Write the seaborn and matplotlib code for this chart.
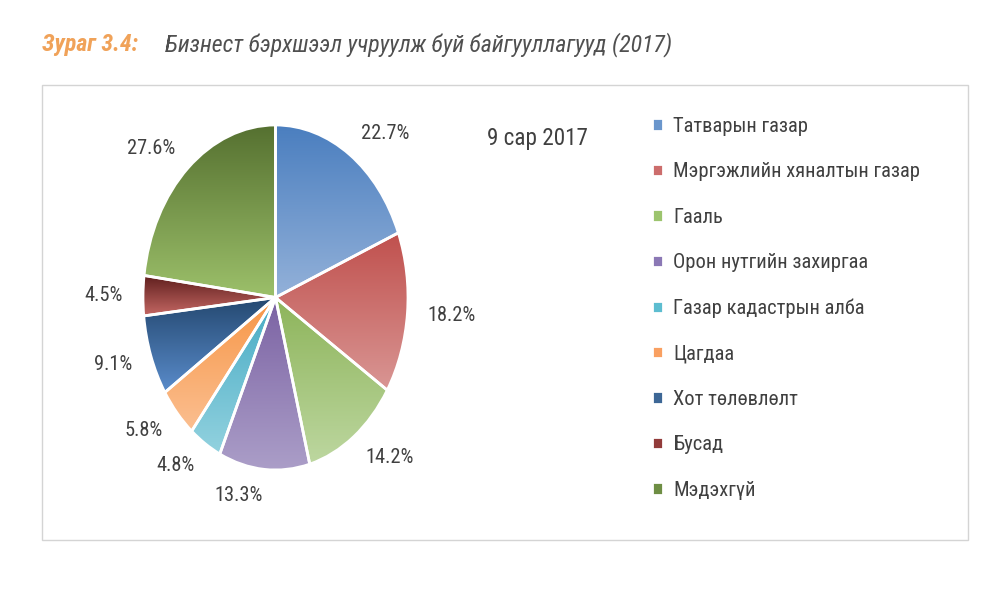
import numpy as np
import seaborn as sns
import matplotlib.pyplot as plt
from matplotlib.colors import LinearSegmentedColormap
from matplotlib.patches import Rectangle
from matplotlib import font_manager
from matplotlib.ft2font import FT2Font

# Data
categories = [
    "Татварын газар",
    "Мэргэжлийн хяналтын газар",
    "Гааль",
    "Орон нутгийн захиргаа",
    "Газар кадастрын алба",
    "Цагдаа",
    "Хот төлөвлөлт",
    "Бусад",
    "Мэдэхгүй",
]
values = [22.7, 18.2, 14.2, 13.3, 4.8, 5.8, 9.1, 4.5, 27.6]
pct_labels = [f"{v:.1f}%" for v in values]

# gradient colours per slice (top -> bottom)
top_colors = ["#4a7ebf", "#c0504d", "#8db45a", "#7b62a3", "#45aac4",
              "#f79646", "#244870", "#5e1e1d", "#557030"]
bottom_colors = ["#93b1d9", "#d99694", "#bdd7a0", "#ab9ec8", "#93d2df",
                 "#fbbf91", "#5a8ccb", "#c56864", "#9cc06a"]
legend_colors = ["#6a96cc", "#cc6d6c", "#9cc46e", "#8b78b5", "#5dbdd0",
                 "#f9a061", "#3d6796", "#923b3a", "#6e8e44"]


def has_cyrillic(path):
    try:
        cmap = FT2Font(path).get_charmap()
    except Exception:
        return False
    return all(ord(c) in cmap for c in "жүөЦ")


def pick_font():
    # the reference uses a condensed face with Cyrillic; find one
    best = None
    for f in font_manager.fontManager.ttflist:
        if f.style != "normal" or f.weight not in (400, "normal", "regular"):
            continue
        narrow_name = "Condensed" in f.name or "Narrow" in f.name
        narrow_stretch = str(f.stretch) in ("condensed", "semi-condensed",
                                            "extra-condensed")
        if not (narrow_name or narrow_stretch):
            continue
        if not has_cyrillic(f.fname):
            continue
        rank = 0 if "Roboto" in f.name else (1 if narrow_name else 2)
        stretch = "normal" if narrow_name else str(f.stretch)
        if best is None or rank < best[0]:
            best = (rank, f.name, stretch)
    if best is None:
        return "Roboto", "normal", False
    return best[1], best[2], True


def main():
    sns.set_theme(style="white")
    fam, stretch, narrow = pick_font()
    plt.rcParams["font.family"] = [fam, "DejaVu Sans"]
    plt.rcParams["font.stretch"] = stretch
    k = 1.0 if narrow else 0.89

    fig = plt.figure(figsize=(10, 6), dpi=100)
    fig.patch.set_facecolor("white")

    # frame around the chart
    fig.add_artist(Rectangle((0.042, 0.1), 0.926, 0.758, transform=fig.transFigure,
                             fill=False, edgecolor="#d4d4d4", linewidth=1))

    # title
    fig.text(0.042, 0.925, "Зураг 3.4:", color="#f0a259", fontsize=17.2 * k,
             fontweight="bold", fontstyle="italic", va="center", ha="left")
    fig.text(0.165, 0.925, "Бизнест бэрхшээл учруулж буй байгууллагууд (2017)",
             color="#505050", fontsize=17.2 * k, fontstyle="italic",
             va="center", ha="left")

    ax = fig.add_axes([0.143, 0.2167, 0.265, 0.575])
    wedges, texts = ax.pie(
        values,
        labels=pct_labels,
        colors=legend_colors,
        startangle=90,
        counterclock=False,
        labeldistance=1.15,
        wedgeprops=dict(edgecolor="white", linewidth=2),
        textprops=dict(fontsize=14.7 * k, color="#404040"),
    )
    ax.set_aspect("auto")
    ax.axis("off")

    fig.legend(
        wedges, categories,
        loc="upper left", bbox_to_anchor=(0.633, 0.836),
        frameon=False, fontsize=14.8 * k, labelcolor="#404040",
        handlelength=0.55, handleheight=0.55, handletextpad=0.5,
        labelspacing=1.285 / k,
    )

    # gradient fill inside every wedge
    grad = np.linspace(0, 1, 256).reshape(-1, 1)
    for w, c0, c1 in zip(wedges, top_colors, bottom_colors):
        ext = w.get_path().get_extents()
        cmap = LinearSegmentedColormap.from_list("g", [c0, c1])
        im = ax.imshow(grad, cmap=cmap, aspect="auto", origin="upper",
                       extent=(ext.x0, ext.x1, ext.y0, ext.y1), zorder=1,
                       interpolation="bicubic")
        im.set_clip_path(w)
        w.set_facecolor("none")
        w.set_zorder(2)
    ax.set_xlim(-1, 1)
    ax.set_ylim(-1, 1)

    fig.text(0.537, 0.77, "9 сар 2017", color="#404040", fontsize=16.7 * k,
             ha="center", va="center")

    fig.savefig("out.png", dpi=100, facecolor="white")


if __name__ == "__main__":
    main()
